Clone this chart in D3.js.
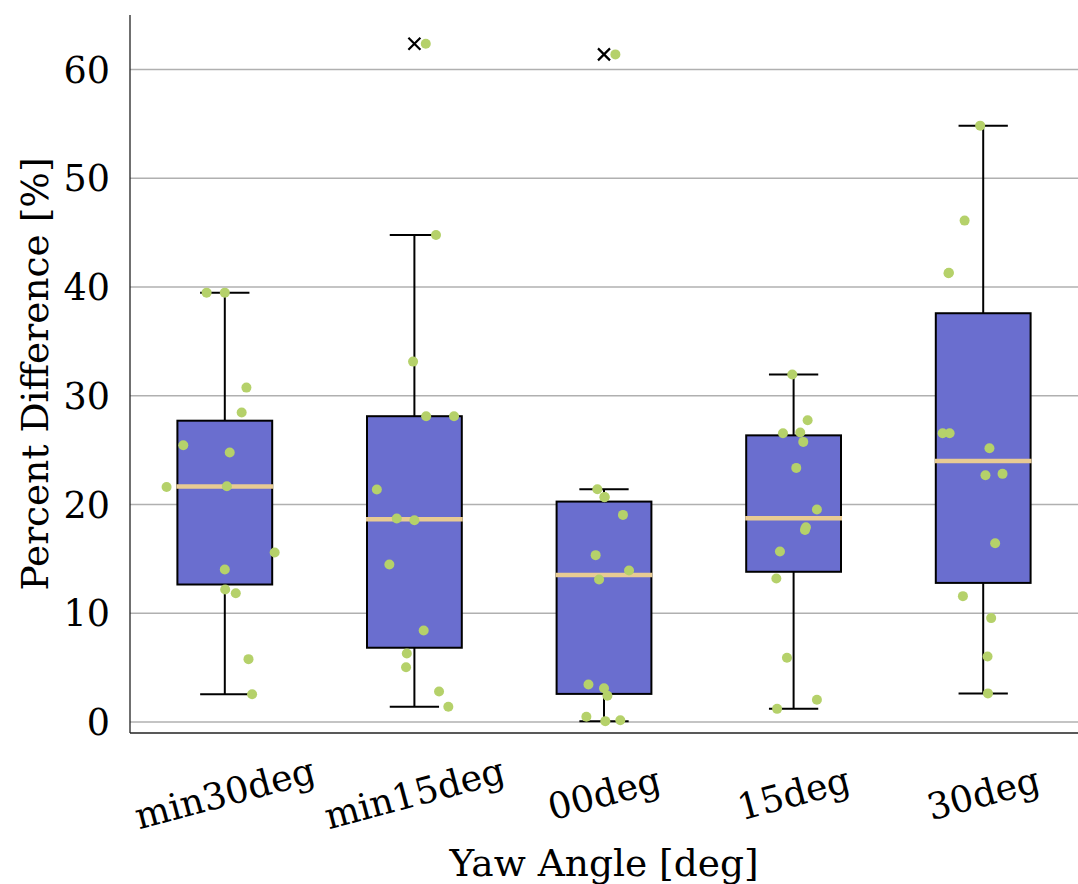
<!DOCTYPE html>
<html>
<head>
<meta charset="utf-8">
<script src="https://cdn.jsdelivr.net/npm/d3@7"></script>
<style>
  html, body { margin: 0; padding: 0; background: #fff; }
  svg { display: block; }
</style>
</head>
<body>
<svg id="chart" width="1078" height="884"></svg>
<script>
// ---- data ----
const categories = ["min30deg", "min15deg", "00deg", "15deg", "30deg"];
const yTicks = [0, 10, 20, 30, 40, 50, 60];

const valuesMin30 = [39.48, 39.48, 30.75, 28.46, 25.45, 24.78, 21.62, 21.68, 15.59, 14.03, 12.19, 11.85, 5.79, 2.57];
const jitterMin30 = [-0.096, 0.0, 0.114, 0.089, -0.219, 0.026, -0.307, 0.011, 0.263, 0.0, 0.002, 0.058, 0.125, 0.144];

const valuesMin15 = [62.36, 44.78, 33.14, 28.12, 28.12, 21.38, 18.72, 18.56, 14.49, 8.42, 6.31, 5.05, 2.82, 1.41];
const jitterMin15 = [0.060, 0.114, -0.007, 0.062, 0.209, -0.198, -0.093, 0.0, -0.132, 0.049, -0.040, -0.044, 0.130, 0.179];

const values00 = [61.38, 21.41, 20.70, 20.68, 19.05, 15.35, 13.94, 13.11, 3.46, 3.12, 2.42, 0.49, 0.09, 0.18];
const jitter00 = [0.060, -0.035, 0.004, 0.002, 0.100, -0.044, 0.132, -0.026, -0.082, 0.0, 0.018, -0.093, 0.007, 0.086];

const values15 = [31.95, 27.75, 26.56, 26.62, 25.76, 23.37, 19.54, 17.92, 17.67, 15.68, 13.20, 5.91, 2.05, 1.22];
const jitter15 = [-0.007, 0.074, -0.056, 0.035, 0.051, 0.014, 0.123, 0.065, 0.060, -0.072, -0.091, -0.035, 0.123, -0.087];

const values30 = [54.83, 46.10, 41.26, 41.30, 26.56, 26.56, 25.18, 22.70, 22.82, 16.45, 11.58, 9.56, 6.04, 2.64];
const jitter30 = [-0.016, -0.098, -0.183, -0.181, -0.214, -0.177, 0.033, 0.012, 0.102, 0.063, -0.107, 0.042, 0.023, 0.025];

const seriesValues = [valuesMin30, valuesMin15, values00, values15, values30];
const seriesJitter = [jitterMin30, jitterMin15, jitter00, jitter15, jitter30];

// ---- layout ----
const svg = d3.select("#chart");
const margin = { left: 130, right: 0, top: 15, bottom: 151 };
const W = 1078, H = 884;
const font = "'DejaVu Serif', serif";
const fs = "36.5px";

const x = d3.scaleLinear().domain([-0.5, 4.5]).range([margin.left, W - margin.right]);
const y = d3.scaleLinear().domain([-1.0, 65.0]).range([H - margin.bottom, margin.top]);

const boxHalf = 0.25, capHalf = 0.13;

// grid
svg.append("g").selectAll("line").data(yTicks).join("line")
  .attr("x1", margin.left).attr("x2", W - margin.right)
  .attr("y1", d => y(d)).attr("y2", d => y(d))
  .attr("stroke", "#b0b0b0").attr("stroke-width", 1.5);

// stats
const stats = seriesValues.map((vals, i) => {
  const s = vals.slice().sort(d3.ascending);
  const q1 = d3.quantile(s, 0.25), med = d3.quantile(s, 0.5), q3 = d3.quantile(s, 0.75);
  const iqr = q3 - q1;
  const lo = d3.min(s.filter(v => v >= q1 - 1.5 * iqr));
  const hi = d3.max(s.filter(v => v <= q3 + 1.5 * iqr));
  const outliers = s.filter(v => v < lo || v > hi);
  return { i, q1, med, q3, lo, hi, outliers };
});

const g = svg.append("g");
stats.forEach(st => {
  const c = st.i;
  g.append("line").attr("x1", x(c)).attr("x2", x(c)).attr("y1", y(st.q3)).attr("y2", y(st.hi))
    .attr("stroke", "#000").attr("stroke-width", 2);
  g.append("line").attr("x1", x(c)).attr("x2", x(c)).attr("y1", y(st.q1)).attr("y2", y(st.lo))
    .attr("stroke", "#000").attr("stroke-width", 2);
  [st.hi, st.lo].forEach(v => {
    g.append("line").attr("x1", x(c - capHalf)).attr("x2", x(c + capHalf)).attr("y1", y(v)).attr("y2", y(v))
      .attr("stroke", "#000").attr("stroke-width", 2);
  });
  g.append("rect").attr("x", x(c - boxHalf)).attr("width", x(c + boxHalf) - x(c - boxHalf))
    .attr("y", y(st.q3)).attr("height", y(st.q1) - y(st.q3))
    .attr("fill", "#6a6ecf").attr("stroke", "#000").attr("stroke-width", 2);
  g.append("line").attr("x1", x(c - boxHalf) - 1).attr("x2", x(c + boxHalf) + 1)
    .attr("y1", y(st.med)).attr("y2", y(st.med))
    .attr("stroke", "#e8cb93").attr("stroke-width", 4.5);
  st.outliers.forEach(v => {
    const cx = x(c), cy = y(v), r = 6;
    g.append("path").attr("d", `M${cx - r},${cy - r}L${cx + r},${cy + r}M${cx - r},${cy + r}L${cx + r},${cy - r}`)
      .attr("stroke", "#000").attr("stroke-width", 2.2).attr("fill", "none");
  });
});

// jittered points
seriesValues.forEach((vals, i) => {
  svg.append("g").selectAll("circle").data(vals).join("circle")
    .attr("cx", (d, k) => x(i + seriesJitter[i][k]))
    .attr("cy", d => y(d))
    .attr("r", 5)
    .attr("fill", "#b5d16a");
});

// axes spines
svg.append("line").attr("x1", margin.left).attr("x2", margin.left)
  .attr("y1", margin.top).attr("y2", H - margin.bottom)
  .attr("stroke", "#222").attr("stroke-width", 1.3);
svg.append("line").attr("x1", margin.left).attr("x2", W)
  .attr("y1", H - margin.bottom).attr("y2", H - margin.bottom)
  .attr("stroke", "#222").attr("stroke-width", 1.3);

// y tick labels
svg.append("g").selectAll("text").data(yTicks).join("text")
  .attr("x", 110).attr("y", d => y(d)).attr("dy", "0.36em")
  .attr("text-anchor", "end")
  .style("font-family", font).style("font-size", fs).attr("fill", "#000")
  .text(d => d);

// x tick labels (rotated)
svg.append("g").selectAll("text").data(categories).join("text")
  .attr("transform", (d, i) => `translate(${x(i)},${793}) rotate(-15)`)
  .attr("text-anchor", "middle").attr("dy", "0.36em")
  .style("font-family", font).style("font-size", fs).attr("fill", "#000")
  .text(d => d);

// axis titles
svg.append("text")
  .attr("transform", `translate(${34},${(margin.top + H - margin.bottom) / 2}) rotate(-90)`)
  .attr("text-anchor", "middle").attr("dy", "0.36em")
  .style("font-family", font).style("font-size", "37.5px").attr("fill", "#000")
  .text("Percent Difference [%]");
svg.append("text")
  .attr("x", (margin.left + W) / 2).attr("y", 862).attr("dy", "0.36em")
  .attr("text-anchor", "middle")
  .style("font-family", font).style("font-size", "37.5px").attr("fill", "#000")
  .text("Yaw Angle [deg]");
</script>
</body>
</html>
